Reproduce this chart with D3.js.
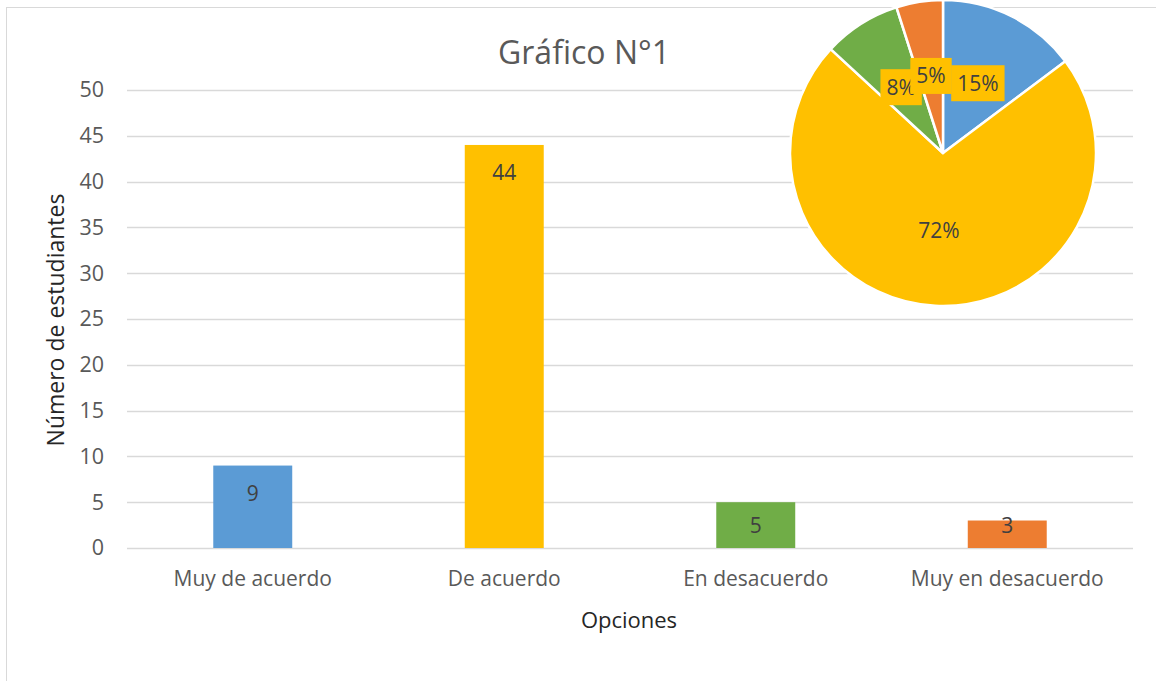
<!DOCTYPE html>
<html>
<head>
<meta charset="utf-8">
<script src="https://cdn.jsdelivr.net/npm/d3@7"></script>
<style>
  html, body { margin: 0; padding: 0; background: #fff; }
  svg { display: block; font-family: "Segoe UI", "Open Sans", "Noto Sans", sans-serif; }
</style>
</head>
<body>
<svg id="chart" width="1156" height="681"></svg>
<script>
const categories = ["Muy de acuerdo", "De acuerdo", "En desacuerdo", "Muy en desacuerdo"];
const values = [9, 44, 5, 3];
const colors = ["#5B9BD5", "#FFC000", "#70AD47", "#ED7D31"];
const yTicks = [0, 5, 10, 15, 20, 25, 30, 35, 40, 45, 50];
const pieLabels = ["15%", "72%", "8%", "5%"];
const titleText = "Gráfico N°1";
const xTitle = "Opciones";
const yTitle = "Número de estudiantes";

(function () {
const svg = d3.select("#chart");
const textColor = "#595959";

// outer chart border
svg.append("rect").attr("x", 6.5).attr("y", 7.5).attr("width", 1160).attr("height", 680)
  .attr("fill", "#fff").attr("stroke", "#d9d9d9").attr("stroke-width", 1);

const pLeft = 127, pRight = 1133, pTop = 90, pBottom = 548;
const x = d3.scaleBand().domain(categories).range([pLeft, pRight]).padding(0);
const y = d3.scaleLinear().domain([0, 50]).range([pBottom, pTop]);

// gridlines
svg.append("g").selectAll("line").data(yTicks).join("line")
  .attr("x1", pLeft).attr("x2", pRight)
  .attr("y1", d => Math.round(y(d)) + 0.5).attr("y2", d => Math.round(y(d)) + 0.5)
  .attr("stroke", "#d9d9d9").attr("stroke-width", 1.3);

// y axis
const yAxis = svg.append("g").attr("transform", `translate(${pLeft},0)`)
  .call(d3.axisLeft(y).tickValues(yTicks).tickSize(0).tickPadding(23));
yAxis.select(".domain").remove();
yAxis.selectAll("text").attr("font-size", 21.5).attr("fill", textColor)
  .attr("font-family", "'Segoe UI','Open Sans',sans-serif");

// x axis labels
const xAxis = svg.append("g").attr("transform", `translate(0,${pBottom})`)
  .call(d3.axisBottom(x).tickSize(0).tickPadding(23));
xAxis.select(".domain").remove();
xAxis.selectAll("text").attr("font-size", 21).attr("fill", textColor)
  .attr("font-family", "'Segoe UI','Open Sans',sans-serif");

// bars
const barFrac = 0.314;
const bw = x.bandwidth() * barFrac;
svg.append("g").selectAll("rect").data(values).join("rect")
  .attr("x", (d, i) => x(categories[i]) + x.bandwidth() / 2 - bw / 2)
  .attr("width", bw)
  .attr("y", d => y(d))
  .attr("height", d => y(0) - y(d))
  .attr("fill", (d, i) => colors[i]);

// bar value labels (inside end, clamped so label stays above the axis)
svg.append("g").selectAll("text").data(values).join("text")
  .attr("x", (d, i) => x(categories[i]) + x.bandwidth() / 2)
  .attr("y", d => Math.min(y(d) + 27.5, y(0) - 23) + 7.5)
  .attr("text-anchor", "middle")
  .attr("font-size", 21).attr("fill", "#404040")
  .text(d => d);

// title
svg.append("text").attr("x", 584).attr("y", 64).attr("text-anchor", "middle")
  .attr("font-size", 32).attr("fill", textColor).text(titleText);

// axis titles
svg.append("text").attr("x", (pLeft + pRight) / 2 - 1).attr("y", 628).attr("text-anchor", "middle")
  .attr("font-size", 22).attr("fill", "#262626").text(xTitle);
svg.append("text").attr("transform", "translate(64,320) rotate(-90)").attr("text-anchor", "middle")
  .attr("font-size", 23).attr("fill", "#262626").text(yTitle);

// pie
const cx = 943, cy = 153, R = 153;
const pie = d3.pie().sort(null).value(d => d);
const arcs = pie(values);
const arc = d3.arc().innerRadius(0).outerRadius(R);
const labelArc = d3.arc().innerRadius(78).outerRadius(78);
const pg = svg.append("g").attr("transform", `translate(${cx},${cy})`);
pg.selectAll("path").data(arcs).join("path")
  .attr("d", arc).attr("fill", (d, i) => colors[i])
  .attr("stroke", "#fff").attr("stroke-width", 2.5).attr("stroke-linejoin", "round");

// pie labels with boxes
arcs.forEach((a, i) => {
  const [lx, ly] = labelArc.centroid(a);
  const g = pg.append("g");
  const t = g.append("text").attr("x", lx).attr("y", ly + 7.5)
    .attr("text-anchor", "middle").attr("font-size", 21).attr("fill", "#404040")
    .text(pieLabels[i]);
  if (i !== 1) {
    const bb = t.node().getBBox();
    g.insert("rect", "text")
      .attr("x", bb.x - 6).attr("y", ly - 18)
      .attr("width", bb.width + 12).attr("height", 36)
      .attr("fill", "#FFC000");
  }
});
})();
</script>
</body>
</html>
